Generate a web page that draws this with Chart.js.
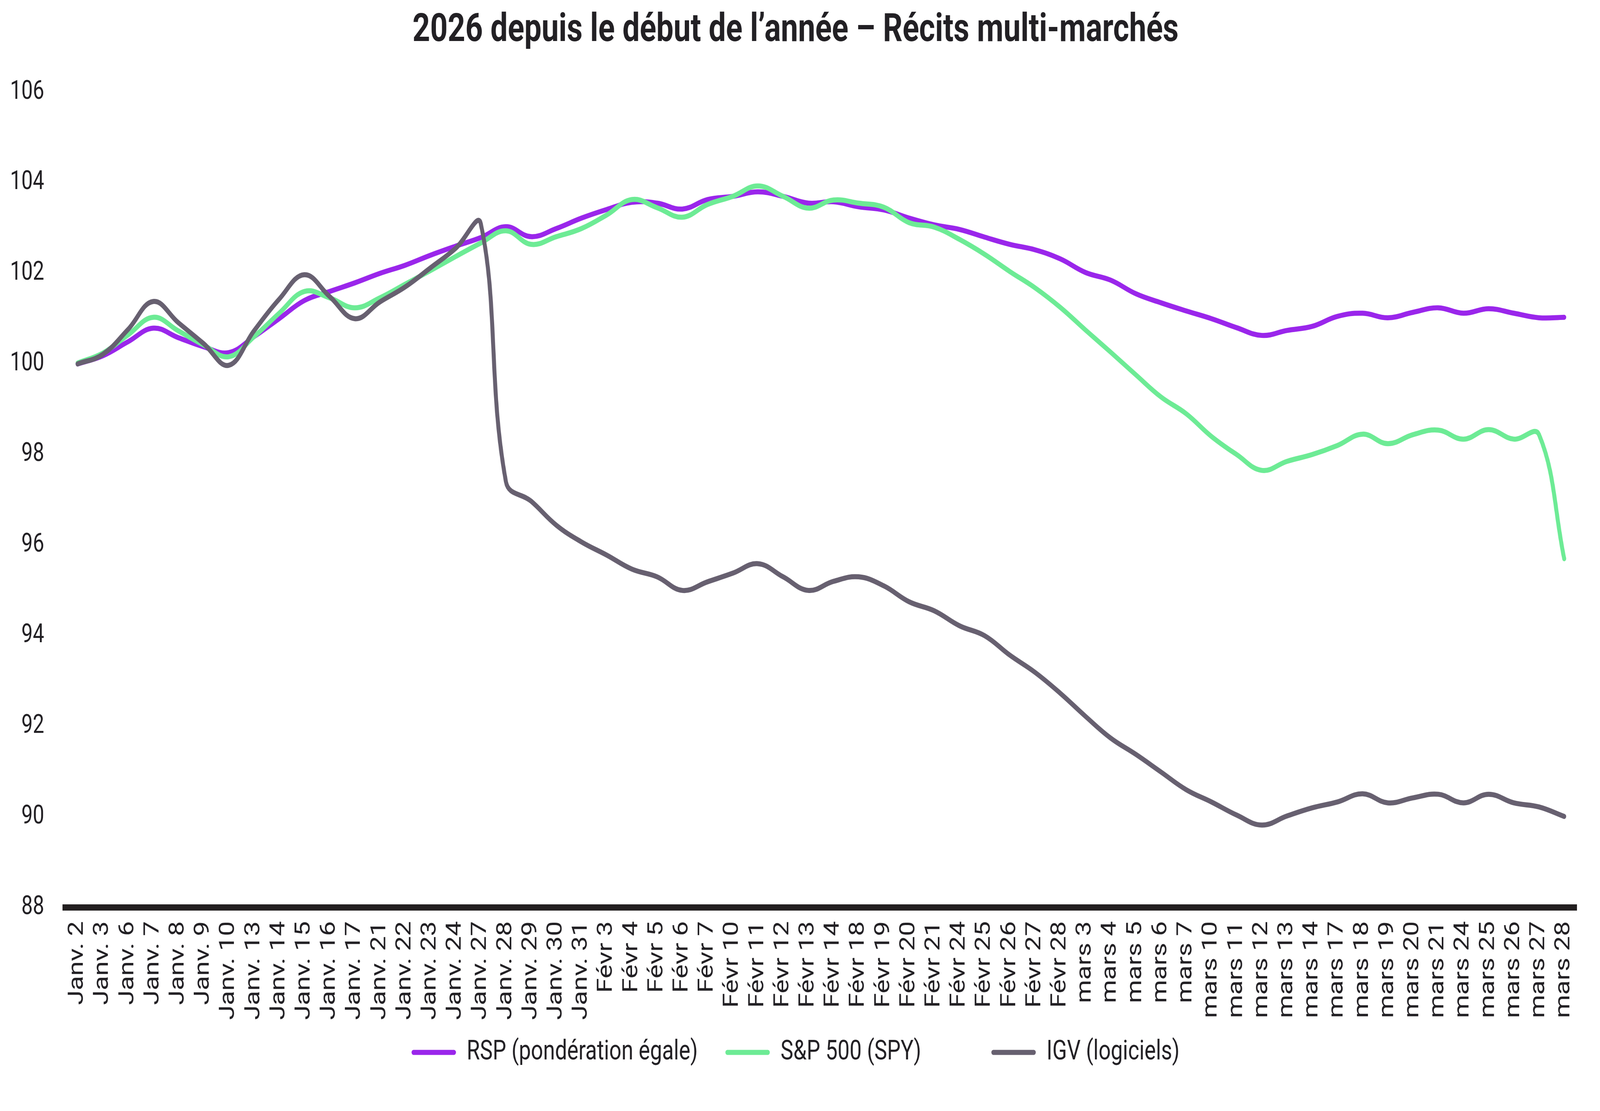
<!DOCTYPE html>
<html>
<head>
<meta charset="utf-8">
<script src="https://cdn.jsdelivr.net/npm/chart.js@4.4.1/dist/chart.umd.min.js"></script>
<style>
  html, body { margin: 0; padding: 0; background: #ffffff; overflow: hidden; }
  #c { display: block; width: 100vw; height: 100vh; }
</style>
</head>
<body>
<canvas id="c" width="5220" height="2844" style="width:100vw;height:100vh;"></canvas>
<script>
const categories = [
  "Janv. 2","Janv. 3","Janv. 6","Janv. 7","Janv. 8","Janv. 9","Janv. 10","Janv. 13","Janv. 14","Janv. 15",
  "Janv. 16","Janv. 17","Janv. 21","Janv. 22","Janv. 23","Janv. 24","Janv. 27","Janv. 28","Janv. 29","Janv. 30",
  "Janv. 31","Févr 3","Févr 4","Févr 5","Févr 6","Févr 7","Févr 10","Févr 11","Févr 12","Févr 13",
  "Févr 14","Févr 18","Févr 19","Févr 20","Févr 21","Févr 24","Févr 25","Févr 26","Févr 27","Févr 28",
  "mars 3","mars 4","mars 5","mars 6","mars 7","mars 10","mars 11","mars 12","mars 13","mars 14",
  "mars 17","mars 18","mars 19","mars 20","mars 21","mars 24","mars 25","mars 26","mars 27","mars 28"
];

const rspValues = [
  100.00,100.18,100.49,100.79,100.58,100.38,100.25,100.60,101.00,101.40,
  101.60,101.79,102.00,102.18,102.40,102.60,102.79,103.03,102.81,102.99,
  103.22,103.41,103.57,103.55,103.42,103.63,103.70,103.80,103.70,103.55,
  103.58,103.47,103.40,103.22,103.07,102.97,102.80,102.64,102.52,102.32,
  102.02,101.85,101.55,101.35,101.17,101.00,100.80,100.63,100.74,100.83,
  101.05,101.12,101.02,101.14,101.24,101.12,101.22,101.12,101.02,101.03
];

const spyValues = [
  100.02,100.24,100.64,101.03,100.73,100.42,100.16,100.60,101.12,101.60,
  101.46,101.24,101.46,101.76,102.06,102.37,102.67,102.94,102.64,102.81,
  102.99,103.29,103.63,103.45,103.24,103.52,103.70,103.93,103.70,103.44,
  103.62,103.55,103.46,103.12,103.02,102.75,102.42,102.04,101.68,101.25,
  100.75,100.26,99.76,99.27,98.90,98.40,98.00,97.65,97.85,98.00,
  98.20,98.45,98.24,98.44,98.54,98.34,98.55,98.34,98.44,95.70
];

const igvValues = [
  100.00,100.21,100.76,101.38,100.91,100.45,99.97,100.73,101.43,101.97,
  101.49,101.00,101.37,101.70,102.12,102.55,103.10,97.40,96.97,96.44,
  96.07,95.78,95.47,95.30,95.00,95.19,95.38,95.59,95.30,95.00,
  95.20,95.30,95.10,94.75,94.55,94.22,94.00,93.57,93.19,92.73,
  92.22,91.74,91.38,90.99,90.60,90.33,90.04,89.82,90.02,90.20,
  90.33,90.51,90.31,90.42,90.50,90.31,90.50,90.31,90.22,90.01
];

const seriesNames = ["RSP (pondération égale)", "S&P 500 (SPY)", "IGV (logiciels)"];
const titleText = "2026 depuis le début de l\u2019année \u2013 Récits multi-marchés";
const yMin = 88, yMax = 106, yStep = 2;

const COL_RSP = "#9a26eb";
const COL_SPY = "#6deb95";
const COL_IGV = "#676070";
const TXT = "#222024";

function lineDs(label, data, color, order) {
  return {
    label: label,
    data: data,
    borderColor: color,
    backgroundColor: color,
    borderWidth: 13,
    pointRadius: 0,
    pointHoverRadius: 0,
    tension: 0.4,
    borderCapStyle: "round",
    borderJoinStyle: "round",
    fill: false,
    order: order
  };
}

// let the rotated x tick labels extend below the (fixed-height) axis box without clipping
const noLabelClip = {
  id: "noLabelClip",
  beforeDraw(chart) {
    const sx = chart.scales.x;
    if (sx) sx._computeLabelArea = function () { return undefined; };
  }
};

new Chart(document.getElementById("c"), {
  type: "line",
  data: {
    labels: categories,
    datasets: [
      lineDs(seriesNames[0], rspValues, COL_RSP, 3),
      lineDs(seriesNames[1], spyValues, COL_SPY, 2),
      lineDs(seriesNames[2], igvValues, COL_IGV, 1)
    ]
  },
  plugins: [noLabelClip],
  options: {
    responsive: false,
    devicePixelRatio: 1,
    animation: false,
    layout: { padding: { left: 0, right: 29, top: 0, bottom: 105 } },
    plugins: {
      title: {
        display: true,
        text: titleText,
        color: TXT,
        font: { family: "Roboto", weight: "bold", size: 100 },
        padding: { top: 20, bottom: 96 }
      },
      legend: {
        display: true,
        position: "bottom",
        labels: {
          color: TXT,
          font: { family: "Roboto", size: 70 },
          boxWidth: 145,
          boxHeight: 13,
          padding: 90,
          useBorderRadius: true,
          borderRadius: 6.5,
          sort: (a, b) => a.datasetIndex - b.datasetIndex,
          generateLabels: (chart) => {
            const items = Chart.defaults.plugins.legend.labels.generateLabels(chart);
            items.forEach(it => {
              it.lineWidth = 0;
              it.strokeStyle = "rgba(0,0,0,0)";
              if (it.datasetIndex === 1) it.text = it.text + "        ";
            });
            return items;
          }
        }
      },
      tooltip: { enabled: false }
    },
    scales: {
      x: {
        offset: true,
        grid: { display: false, drawTicks: false },
        border: { display: true, width: 16, color: "#231f20" },
        ticks: {
          autoSkip: false,
          maxRotation: 90,
          minRotation: 90,
          padding: 35,
          color: TXT,
          font: { family: "Roboto", size: 68 }
        },
        afterFit: (s) => { s.height = 246; }
      },
      y: {
        min: yMin,
        max: yMax,
        grid: { display: false, drawTicks: false },
        border: { display: false },
        ticks: {
          stepSize: yStep,
          padding: 68,
          color: TXT,
          font: { family: "Roboto", size: 66 }
        },
        afterFit: (s) => { s.width = 212; }
      }
    }
  }
});
</script>
</body>
</html>
